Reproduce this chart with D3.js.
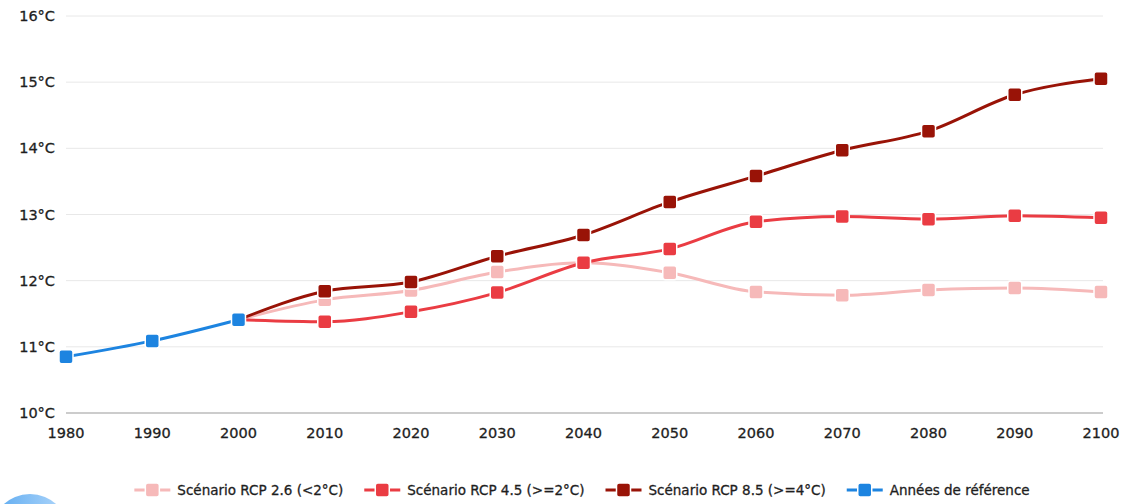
<!DOCTYPE html>
<html><head><meta charset="utf-8">
<script src="https://cdn.jsdelivr.net/npm/d3@7"></script>
<style>
html,body{margin:0;padding:0;background:#fff;}
svg{display:block;font-family:"DejaVu Sans",Verdana,sans-serif;}
svg text{stroke:#1e1e1e;stroke-width:0.3px;}
</style></head>
<body><svg id="c" width="1124" height="504"></svg>
<script>
const years = [1980,1990,2000,2010,2020,2030,2040,2050,2060,2070,2080,2090,2100];
const yTicks = [10,11,12,13,14,15,16];
const refYears = [1980,1990,2000];
const refValues = [10.85,11.09,11.41];
const scenYears = [2000,2010,2020,2030,2040,2050,2060,2070,2080,2090,2100];
const rcp26 = [11.41,11.71,11.85,12.13,12.27,12.12,11.83,11.78,11.86,11.89,11.83];
const rcp45 = [11.41,11.38,11.53,11.82,12.27,12.48,12.89,12.97,12.93,12.98,12.95];
const rcp85 = [11.41,11.84,11.98,12.37,12.69,13.19,13.58,13.97,14.26,14.81,15.05];
const seriesNames = ["Scénario RCP 2.6 (<2°C)","Scénario RCP 4.5 (>=2°C)","Scénario RCP 8.5 (>=4°C)","Années de référence"];
const colors = ["#f6b9b9","#ea3c43","#991307","#1d84e0"];

const svg = d3.select("#c");
const x = d3.scaleLinear().domain([1980,2100]).range([66,1101]);
const y = d3.scaleLinear().domain([10,16]).range([413,16]);

const defs = svg.append("defs");
const g1 = defs.append("linearGradient").attr("id","bc").attr("x1","0").attr("x2","1");
g1.append("stop").attr("offset","0").attr("stop-color","#5aa9f0");
g1.append("stop").attr("offset","1").attr("stop-color","#b3d8fb");
svg.append("circle").attr("cx",30).attr("cy",533).attr("r",39).attr("fill","url(#bc)");

svg.append("g").selectAll("line").data(yTicks.filter(d=>d>10)).join("line")
  .attr("x1",66).attr("x2",1103).attr("y1",d=>y(d)).attr("y2",d=>y(d))
  .attr("stroke","#e8e8e8").attr("stroke-width",1);
svg.append("line").attr("x1",66).attr("x2",1103).attr("y1",y(10)).attr("y2",y(10))
  .attr("stroke","#9a9a9a").attr("stroke-width",1.2);

svg.append("g").selectAll("text").data(yTicks).join("text")
  .attr("x",55).attr("y",d=>y(d)).attr("dy","0.35em").attr("text-anchor","end")
  .attr("font-size",14.5).attr("fill","#1e1e1e").text(d=>d+"°C");
svg.append("g").selectAll("text").data(years).join("text")
  .attr("x",d=>x(d)).attr("y",433).attr("dy","0.35em").attr("text-anchor","middle")
  .attr("font-size",14.5).attr("fill","#1e1e1e").text(d=>d);

const line = d3.line().x(d=>x(d[0])).y(d=>y(d[1])).curve(d3.curveMonotoneX);
const series = [
  {name:seriesNames[0],c:colors[0],data:d3.zip(scenYears,rcp26)},
  {name:seriesNames[1],c:colors[1],data:d3.zip(scenYears,rcp45)},
  {name:seriesNames[2],c:colors[2],data:d3.zip(scenYears,rcp85)},
  {name:seriesNames[3],c:colors[3],data:d3.zip(refYears,refValues)}
];
series.forEach(s=>{
  const g = svg.append("g");
  g.append("path").attr("d",line(s.data)).attr("fill","none").attr("stroke",s.c).attr("stroke-width",3).attr("stroke-linecap","round");
  g.selectAll("rect").data(s.data.filter(d=>!(s.name!==seriesNames[3] && d[0]===2000))).join("rect")
    .attr("x",d=>x(d[0])-7).attr("y",d=>y(d[1])-7).attr("width",14).attr("height",14)
    .attr("rx",2.5).attr("fill",s.c).attr("stroke","#fff").attr("stroke-width",1.5);
});

const leg = svg.append("g");
let cx = 0;
series.forEach((s,i)=>{
  const it = leg.append("g").attr("transform",`translate(${cx},0)`);
  it.append("line").attr("x1",0).attr("x2",36).attr("y1",0).attr("y2",0).attr("stroke",s.c).attr("stroke-width",3);
  it.append("rect").attr("x",11).attr("y",-7).attr("width",14).attr("height",14).attr("rx",2.5).attr("fill",s.c).attr("stroke","#fff").attr("stroke-width",1.5);
  const t = it.append("text").attr("x",43).attr("y",0).attr("dy","0.35em").attr("font-size",13.5).attr("fill","#1e1e1e").text(s.name);
  const w = t.node().getComputedTextLength();
  cx += 43 + w + 21;
});
const total = cx - 21;
leg.attr("transform",`translate(${582 - total/2},490)`);
</script></body></html>
